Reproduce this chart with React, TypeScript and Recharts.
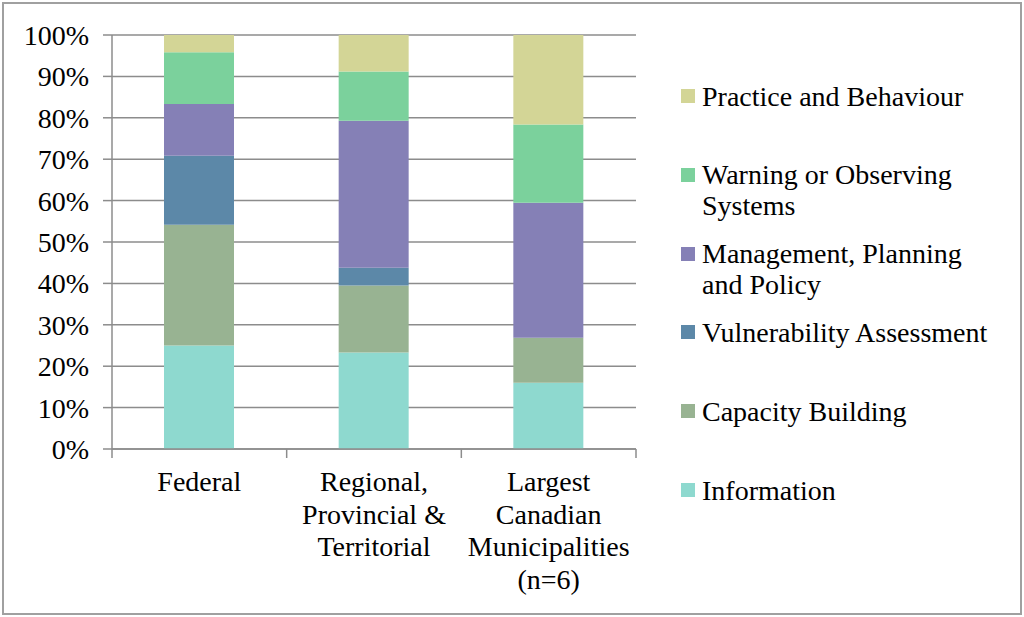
import React from "react";
import { BarChart, Bar, XAxis, YAxis, CartesianGrid } from "recharts";

// categories (one entry per line of the axis label)
const categories = [
  ["Federal"],
  ["Regional,", "Provincial &", "Territorial"],
  ["Largest", "Canadian", "Municipalities", "(n=6)"],
];

// shares in percent, bottom of the stack first
const information = [25.0, 23.3, 16.0];
const capacityBuilding = [29.2, 16.2, 10.9];
const vulnerabilityAssessment = [16.7, 4.3, 0];
const managementPlanning = [12.5, 35.5, 32.6];
const warningObserving = [12.5, 11.9, 18.9];
const practiceBehaviour = [4.2, 8.8, 21.6];

const yTicks = [0, 0.1, 0.2, 0.3, 0.4, 0.5, 0.6, 0.7, 0.8, 0.9, 1];

const series = [
  { key: "info", name: "Information", values: information, color: "#8ED9CF" },
  { key: "cap", name: "Capacity Building", values: capacityBuilding, color: "#98B392" },
  { key: "vul", name: "Vulnerability Assessment", values: vulnerabilityAssessment, color: "#5C88A8" },
  { key: "mgmt", name: "Management, Planning and Policy", values: managementPlanning, color: "#8580B6" },
  { key: "warn", name: "Warning or Observing Systems", values: warningObserving, color: "#7BD19C" },
  { key: "prac", name: "Practice and Behaviour", values: practiceBehaviour, color: "#D3D596" },
];

// legend text as it wraps in the reference, top item first
const legendLines: Record<string, string[]> = {
  prac: ["Practice and Behaviour"],
  warn: ["Warning or Observing", "Systems"],
  mgmt: ["Management, Planning", "and Policy"],
  vul: ["Vulnerability Assessment"],
  cap: ["Capacity Building"],
  info: ["Information"],
};

const data = categories.map((lines, i) => {
  const row: Record<string, any> = { name: lines.join(" "), lines };
  series.forEach((s) => {
    row[s.key] = s.values[i];
  });
  return row;
});

const FONT = '"Liberation Serif", "Times New Roman", serif';
const FS = 28;
const AXIS = "#8C8C8C";

// category label plus the tick marks on the band edges (Excel style)
function CategoryTick(props: any) {
  const { x, y, payload, index, visibleTicksCount } = props;
  const half = payload.offset || 0;
  const row = data.find((d) => d.name === payload.value);
  const lines: string[] = row ? row.lines : [payload.value];
  const isLast = index === visibleTicksCount - 1;
  return (
    <g>
      <line x1={x - half} x2={x - half} y1={y} y2={y + 9} stroke={AXIS} strokeWidth={1.5} />
      {isLast && <line x1={x + half} x2={x + half} y1={y} y2={y + 9} stroke={AXIS} strokeWidth={1.5} />}
      <text x={x} y={y} textAnchor="middle" fontFamily={FONT} fontSize={FS} fill="#000">
        {lines.map((l, i) => (
          <tspan key={i} x={x} dy={i === 0 ? 42 : 32.5}>
            {l}
          </tspan>
        ))}
      </text>
    </g>
  );
}

export default function App() {
  const legendItems = [...series].reverse();
  return (
    <div style={{ position: "absolute", left: 0, top: 0, width: 1024, height: 617, background: "#fff" }}>
      <div
        style={{
          position: "absolute",
          left: 2,
          top: 2,
          width: 1020,
          height: 613,
          boxSizing: "border-box",
          border: "2px solid #A0A0A0",
        }}
      />
      <BarChart
        width={1024}
        height={617}
        data={data}
        stackOffset="expand"
        barSize={70}
        margin={{ top: 35, right: 388, bottom: 167, left: 0 }}
        style={{ position: "absolute", left: 0, top: 0 }}
      >
        <CartesianGrid horizontal vertical={false} stroke={AXIS} strokeWidth={1.5} />
        <XAxis
          dataKey="name"
          interval={0}
          height={1}
          tickLine={false}
          tickSize={0}
          tickMargin={0}
          axisLine={{ stroke: AXIS, strokeWidth: 1.5 }}
          tick={<CategoryTick />}
        />
        <YAxis
          width={112}
          domain={[0, 1]}
          ticks={yTicks}
          interval={0}
          tickSize={9}
          tickMargin={14}
          tickFormatter={(v: number) => `${Math.round(v * 100)}%`}
          tick={{ fontFamily: FONT, fontSize: FS, fill: "#000" }}
          axisLine={{ stroke: AXIS, strokeWidth: 1.5 }}
          tickLine={{ stroke: AXIS, strokeWidth: 1.5 }}
        />
        {series.map((s) => (
          <Bar key={s.key} dataKey={s.key} name={s.name} stackId="a" fill={s.color} isAnimationActive={false} />
        ))}
      </BarChart>
      {legendItems.map((s, i) => (
        <div
          key={s.key}
          style={{
            position: "absolute",
            left: 681,
            top: 96 + i * 78.8 - 15.5,
            display: "flex",
            alignItems: "flex-start",
            fontFamily: FONT,
            fontSize: FS,
            lineHeight: "31px",
            color: "#000",
            whiteSpace: "nowrap",
          }}
        >
          <div style={{ width: 14, height: 14, background: s.color, marginTop: 8.5, marginRight: 7, flexShrink: 0 }} />
          <div>
            {legendLines[s.key].map((l, j) => (
              <div key={j}>{l}</div>
            ))}
          </div>
        </div>
      ))}
    </div>
  );
}
